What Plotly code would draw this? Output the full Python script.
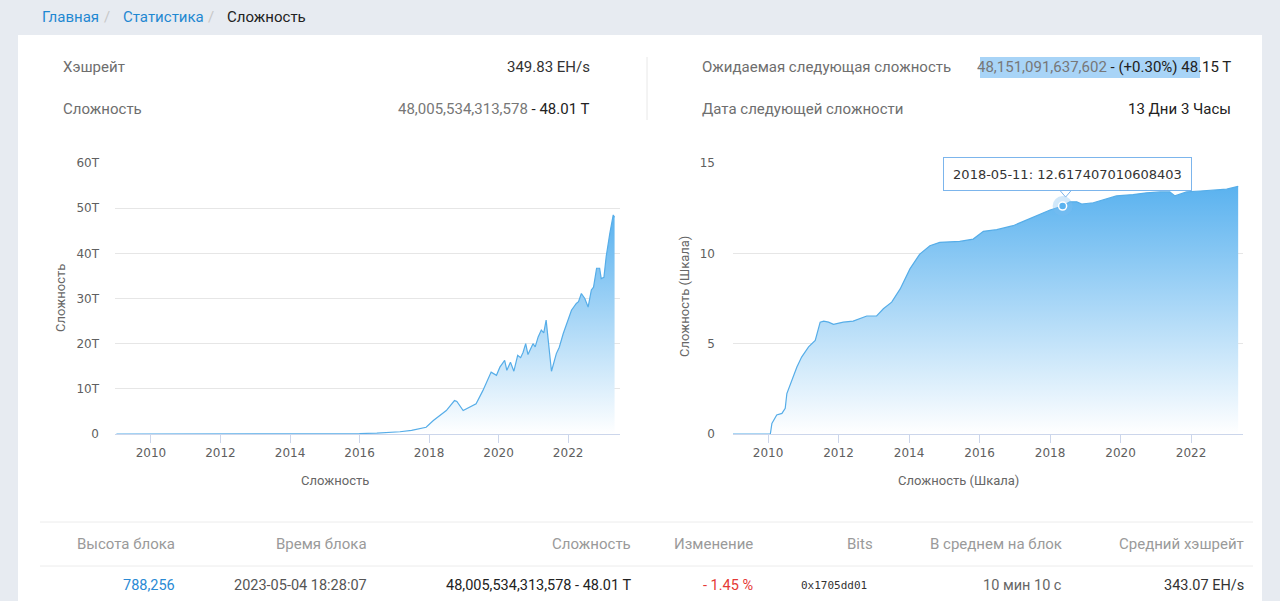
import plotly.graph_objects as go

# ---------------- data ----------------
diff_dates = ['2009-01-03', '2012-01-01', '2014-01-01', '2015-01-01', '2016-01-01', '2016-07-01',
              '2017-01-01', '2017-03-01', '2017-07-01', '2017-12-01', '2018-02-15', '2018-07-01',
              '2018-09-25', '2018-10-20', '2018-12-25', '2019-05-10', '2019-07-20', '2019-08-25',
              '2019-10-15', '2019-12-10', '2020-01-15', '2020-03-05', '2020-03-28', '2020-05-05',
              '2020-06-10', '2020-07-20', '2020-08-20', '2020-09-15', '2020-10-12', '2020-11-05',
              '2020-12-28', '2021-01-20', '2021-02-20', '2021-03-25', '2021-04-20', '2021-05-15',
              '2021-06-03', '2021-07-10', '2021-08-30', '2021-09-30', '2021-11-10', '2021-12-15',
              '2022-01-10', '2022-02-05', '2022-03-28', '2022-04-20', '2022-05-20', '2022-06-25',
              '2022-07-30', '2022-09-02', '2022-09-25', '2022-10-27', '2022-11-28', '2022-12-15',
              '2023-01-12', '2023-02-05', '2023-03-15', '2023-04-20', '2023-05-04']
diff_values_t = [0, 0, 0.01, 0.04, 0.1, 0.2,
                 0.33, 0.5, 0.8, 1.5, 3.0, 5.2,
                 7.4, 7.2, 5.2, 6.7, 9.6, 11.2,
                 13.7, 13.0, 14.8, 16.3, 14.1, 15.9,
                 13.9, 17.4, 16.9, 18.1, 20.0, 17.6,
                 20.0, 19.3, 21.5, 23.0, 22.4, 25.2,
                 21.5, 13.9, 17.8, 19.2, 22.2, 24.3,
                 26.0, 27.4, 28.9, 29.3, 31.1, 30.0,
                 28.1, 31.9, 32.5, 36.7, 36.7, 34.4,
                 34.7, 39.3, 44.4, 48.5, 48.0]

log_dates = ['2009-01-03', '2010-01-25', '2010-02-10', '2010-04-01', '2010-05-25', '2010-06-28',
             '2010-07-15', '2010-09-05', '2010-10-27', '2010-12-15', '2011-02-25', '2011-05-05',
             '2011-06-25', '2011-08-01', '2011-09-20', '2011-11-10', '2012-02-20', '2012-06-01',
             '2012-10-20', '2013-01-30', '2013-04-10', '2013-07-05', '2013-10-01', '2014-01-10',
             '2014-04-22', '2014-08-05', '2014-11-15', '2015-06-10', '2015-10-28', '2016-02-10',
             '2016-06-28', '2016-12-15', '2017-05-05', '2017-09-20', '2018-01-01', '2018-05-11',
             '2018-07-25', '2018-10-05', '2018-11-25', '2019-03-25', '2019-08-10', '2019-11-20',
             '2020-05-10', '2020-09-27', '2021-02-15', '2021-05-25', '2021-07-18', '2021-11-15',
             '2022-04-05', '2022-09-25', '2023-01-05', '2023-05-04']
log_values = [0, 0, 0.59, 1.05, 1.14, 1.42,
              2.24, 2.98, 3.71, 4.26, 4.82, 5.18,
              6.19, 6.25, 6.19, 6.07, 6.19, 6.25,
              6.53, 6.53, 6.93, 7.30, 8.03, 9.14,
              9.96, 10.42, 10.61, 10.66, 10.79, 11.22,
              11.31, 11.53, 11.85, 12.13, 12.40, 12.617,
              12.85, 12.85, 12.73, 12.80, 13.04, 13.18,
              13.25, 13.35, 13.40, 13.40, 13.18, 13.40,
              13.45, 13.53, 13.55, 13.71]

hover_date = '2018-05-11'
hover_value = 12.617407010608403

year_ticks = ['2010-01-01', '2012-01-01', '2014-01-01', '2016-01-01', '2018-01-01', '2020-01-01', '2022-01-01']
year_labels = ['2010', '2012', '2014', '2016', '2018', '2020', '2022']
left_yticks = [0, 10, 20, 30, 40, 50, 60]
left_ylabels = ['0', '10T', '20T', '30T', '40T', '50T', '60T']
right_yticks = [0, 5, 10, 15]
right_ylabels = ['0', '5', '10', '15']

breadcrumbs = ['Главная', 'Статистика', 'Сложность']
info_labels = ['Хэшрейт', 'Сложность', 'Ожидаемая следующая сложность', 'Дата следующей сложности']
hashrate = '349.83 EH/s'
difficulty_full = '48,005,534,313,578'
difficulty_short = '48.01 T'
next_full = '48,151,091,637,602'
next_change = '(+0.30%)'
next_short = '48.15 T'
next_time = '13 Дни 3 Часы'

table_headers = ['Высота блока', 'Время блока', 'Сложность', 'Изменение', 'Bits', 'В среднем на блок', 'Средний хэшрейт']
table_row = ['788,256', '2023-05-04 18:28:07', '48,005,534,313,578 - 48.01 T', '- 1.45 %', '0x1705dd01', '10 мин 10 с', '343.07 EH/s']

# ---------------- layout helpers ----------------
W, H = 1280, 601


def fx(x):
    return x / W


def fy(y):
    return 1 - y / H


LINE = '#56ade8'
FILL_TOP = '#5ab2ef'
GRID = '#e6e6e6'
AXIS = '#ccd6eb'
PAGE_FONT = 'Roboto'
CHART_FONT = 'DejaVu Sans'

fig = go.Figure()

fig.add_trace(go.Scatter(
    x=diff_dates, y=diff_values_t, mode='lines', line=dict(color=LINE, width=1.2),
    fill='tozeroy',
    fillgradient=dict(type='vertical', start=0, stop=max(diff_values_t),
                      colorscale=[[0, 'rgba(255,255,255,1)'], [1, FILL_TOP]]),
    xaxis='x', yaxis='y', showlegend=False, hoverinfo='skip'))

fig.add_trace(go.Scatter(
    x=log_dates, y=log_values, mode='lines', line=dict(color=LINE, width=1.2),
    fill='tozeroy',
    fillgradient=dict(type='vertical', start=0, stop=max(log_values),
                      colorscale=[[0, 'rgba(255,255,255,1)'], [1, FILL_TOP]]),
    xaxis='x2', yaxis='y2', showlegend=False, hoverinfo='skip'))

# hover halo + marker
fig.add_trace(go.Scatter(x=[hover_date], y=[hover_value], mode='markers',
                         marker=dict(size=20, color='rgba(124,190,240,0.35)'),
                         xaxis='x2', yaxis='y2', showlegend=False, hoverinfo='skip'))
fig.add_trace(go.Scatter(x=[hover_date], y=[hover_value], mode='markers',
                         marker=dict(size=8, color=FILL_TOP, line=dict(color='white', width=1.5)),
                         xaxis='x2', yaxis='y2', showlegend=False, hoverinfo='skip'))

xaxis_common = dict(type='date', showgrid=False, zeroline=False, showline=True, linecolor=AXIS,
                    linewidth=1, ticks='outside', ticklen=8, tickcolor=AXIS, tickwidth=1,
                    tickvals=year_ticks, ticktext=year_labels, automargin=False,
                    tickfont=dict(family=CHART_FONT, size=12, color='#606060'), fixedrange=True)
yaxis_common = dict(showgrid=True, gridcolor=GRID, gridwidth=1, zeroline=False, showline=False,
                    ticks='', tickfont=dict(family=CHART_FONT, size=12, color='#606060'),
                    automargin=False, fixedrange=True)

fig.update_layout(
    width=W, height=H, margin=dict(l=0, r=0, t=0, b=0, pad=0, autoexpand=False),
    paper_bgcolor='#e7ebf1', plot_bgcolor='rgba(0,0,0,0)',
    hovermode=False, showlegend=False,
    xaxis=dict(**xaxis_common, domain=[fx(115), fx(620)], range=['2008-12-19', '2023-06-30'], anchor='y'),
    yaxis=dict(**yaxis_common, domain=[fy(434), fy(163)], range=[0, 60], anchor='x',
               tickvals=left_yticks, ticktext=left_ylabels, ticklabelstandoff=15),
    xaxis2=dict(**xaxis_common, domain=[fx(733), fx(1243)], range=['2009-01-03', '2023-06-23'], anchor='y2'),
    yaxis2=dict(**yaxis_common, domain=[fy(434), fy(163)], range=[0, 15], anchor='x2',
                tickvals=right_yticks, ticktext=right_ylabels, ticklabelstandoff=17),
)

shapes = []
# white card
shapes.append(dict(type='rect', xref='paper', yref='paper', x0=fx(18), x1=fx(1262), y0=fy(640), y1=fy(35),
                   fillcolor='white', line=dict(width=0), layer='below'))
# info divider
shapes.append(dict(type='line', xref='paper', yref='paper', x0=fx(647), x1=fx(647), y0=fy(57), y1=fy(120),
                   line=dict(color='#e8e8e8', width=1), layer='below'))
# selection highlight
shapes.append(dict(type='rect', xref='paper', yref='paper', x0=fx(980), x1=fx(1200), y0=fy(78), y1=fy(57),
                   fillcolor='#a8d4f7', line=dict(width=0), layer='below'))
# table lines
for yy in (522, 566):
    shapes.append(dict(type='line', xref='paper', yref='paper', x0=fx(40), x1=fx(1253), y0=fy(yy), y1=fy(yy),
                       line=dict(color='#ececec', width=1), layer='below'))
# tooltip pointer
shapes.append(dict(type='path', xref='x2', yref='y2', xsizemode='pixel', ysizemode='pixel',
                   xanchor=hover_date, yanchor=hover_value,
                   path='M -3,16 L 3,9 L 9,16', fillcolor='white', line=dict(color='#7cb5ec', width=1),
                   layer='above'))
fig.update_layout(shapes=shapes)

ann = []


def text(t, x, y, anchor='left', color='#333', size=15, family=PAGE_FONT, angle=0):
    ann.append(dict(text=t, x=fx(x), y=fy(y), xref='paper', yref='paper', showarrow=False,
                    xanchor=anchor, yanchor='middle', textangle=angle,
                    font=dict(family=family, size=size, color=color)))


# breadcrumb
text(breadcrumbs[0], 40, 17, color='#1f88d2')
text('/', 107, 17, anchor='center', color='#c8c8c8')
text(breadcrumbs[1], 121, 17, color='#1f88d2')
text('/', 211, 17, anchor='center', color='#c8c8c8')
text(breadcrumbs[2], 225, 17, color='#222')

# info block
GREY = '#6e6e6e'
text(info_labels[0], 61, 67, color=GREY)
text(hashrate, 592, 67, anchor='right', color='#333')
text(info_labels[1], 61, 109, color=GREY)
text(f"<span style='color:#777'>{difficulty_full}</span> - {difficulty_short}", 592, 109, anchor='right', color='#222')
text(info_labels[2], 700, 67, color=GREY)
text(f"<span style='color:#777'>{next_full}</span> - {next_change} {next_short}", 1233, 67, anchor='right', color='#222')
text(info_labels[3], 700, 109, color=GREY)
text(next_time, 1233, 109, anchor='right', color='#222')

# axis titles
text('Сложность', 60, 298, anchor='center', color='#666', size=13, angle=-90)
text('Сложность', 335, 480, anchor='center', color='#666', size=13)
text('Сложность (Шкала)', 684, 297, anchor='center', color='#666', size=13, angle=-90)
text('Сложность (Шкала)', 958, 480, anchor='center', color='#666', size=13)

# table
header_x = [177, 369, 633, 755, 875, 1064, 1246]
for h, xx in zip(table_headers, header_x):
    text(h, xx, 544, anchor='right', color='#9a9a9a')
row_colors = ['#2a8ad4', '#555', '#222', '#e53935', '#333', '#666', '#333']
for i, (v, xx, c) in enumerate(zip(table_row, header_x, row_colors)):
    if i == 4:
        text(v, 799, 585, anchor='left', color=c, size=11, family='DejaVu Sans Mono')
    else:
        text(v, xx, 585, anchor='right', color=c, size=14.5)

# tooltip
ann.append(dict(text=f"{hover_date}: {hover_value}", x=hover_date, y=hover_value, xref='x2', yref='y2',
                showarrow=False, xanchor='center', yanchor='middle', xshift=5, yshift=32,
                width=231, height=16,
                bgcolor='rgba(255,255,255,0.97)', bordercolor='#7cb5ec', borderwidth=1, borderpad=8,
                font=dict(family=CHART_FONT, size=13, color='#333')))

fig.update_layout(annotations=ann)

fig.write_html("out.html", config={'displayModeBar': False},
               post_script="document.body.style.margin='0';document.body.style.overflow='hidden';")
